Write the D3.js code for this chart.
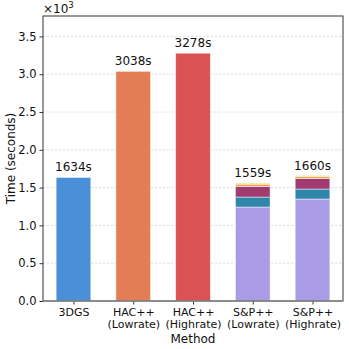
<!DOCTYPE html>
<html>
<head>
<meta charset="utf-8">
<script src="https://cdn.jsdelivr.net/npm/d3@7"></script>
<style>
  body { margin: 0; background: #fff; }
  text { font-family: "DejaVu Sans", sans-serif; fill: #111; }
</style>
</head>
<body>
<div id="chart"></div>
<script>
// Dados
const methods = ["3DGS", "HAC++\n(Lowrate)", "HAC++\n(Highrate)", "S&P++\n(Lowrate)", "S&P++\n(Highrate)"];
const totals = [1634, 3038, 3278, 1559, 1660];
const barColors = ["#4a90d9", "#e27d56", "#db5252", "#a99be6", "#a99be6"];

// S&P++ componentes (empilhados)
const stackColors = ["#a99be6", "#2e86ab", "#a23b72", "#f1a340", "#c9d86a"];
const spLow = [1243, 132, 141, 30, 13];
const spHigh = [1349, 132, 141, 23, 15];

const yTicks = [0, 0.5, 1.0, 1.5, 2.0, 2.5, 3.0, 3.5];

const W = 349, H = 349;
const mLeft = 43, mRight = 343, mTop = 16, mBottom = 301;

const svg = d3.select("#chart").append("svg").attr("width", W).attr("height", H);

const x = d3.scaleLinear().domain([-0.51, 4.51]).range([mLeft, mRight]);
const y = d3.scaleLinear().domain([0, 3770]).range([mBottom, mTop]);
const barW = x(0.58) - x(0);

// grelha
svg.append("g")
  .selectAll("line")
  .data(yTicks.slice(1))
  .join("line")
  .attr("x1", mLeft).attr("x2", mRight)
  .attr("y1", d => y(d * 1000)).attr("y2", d => y(d * 1000))
  .attr("stroke", "#d8d8d8").attr("stroke-width", 0.8)
  .attr("stroke-dasharray", "2.5,1.5");

// barras simples
const simple = totals.map((t, i) => ({ t, i })).filter(d => d.i < 3);
svg.append("g")
  .selectAll("rect")
  .data(simple)
  .join("rect")
  .attr("x", d => x(d.i) - barW / 2)
  .attr("y", d => y(d.t))
  .attr("width", barW)
  .attr("height", d => y(0) - y(d.t))
  .attr("fill", d => barColors[d.i])
  .attr("stroke", "#fff").attr("stroke-opacity", 0.6).attr("stroke-width", 0.8);

// barras empilhadas
[[3, spLow], [4, spHigh]].forEach(([i, parts]) => {
  let acc = 0;
  const segs = parts.map((v, k) => {
    const s = { y0: acc, y1: acc + v, k };
    acc += v;
    return s;
  });
  svg.append("g")
    .selectAll("rect")
    .data(segs)
    .join("rect")
    .attr("x", x(i) - barW / 2)
    .attr("y", d => y(d.y1))
    .attr("width", barW)
    .attr("height", d => y(d.y0) - y(d.y1))
    .attr("fill", d => stackColors[d.k])
    .attr("stroke", "#fff").attr("stroke-opacity", 0.6).attr("stroke-width", 0.8);
});

// rótulos de valores
svg.append("g")
  .selectAll("text")
  .data(totals)
  .join("text")
  .attr("x", (d, i) => x(i))
  .attr("y", d => y(d) - 6)
  .attr("text-anchor", "middle")
  .attr("font-size", 12)
  .text(d => d + "s");

// eixo y
const yAxis = d3.axisLeft(y)
  .tickValues(yTicks.map(d => d * 1000))
  .tickFormat(d => (d / 1000).toFixed(1))
  .tickSize(3.5);
svg.append("g")
  .attr("transform", `translate(${mLeft},0)`)
  .call(yAxis)
  .call(g => g.select(".domain").remove())
  .call(g => g.selectAll("line").attr("stroke", "#333"))
  .call(g => g.selectAll("text").attr("font-size", 11.5).attr("fill", "#111").attr("font-family", "DejaVu Sans"));

// eixo x
const xAxis = d3.axisBottom(x)
  .tickValues(d3.range(methods.length))
  .tickFormat("")
  .tickSize(3.5);
const gx = svg.append("g")
  .attr("transform", `translate(0,${mBottom})`)
  .call(xAxis)
  .call(g => g.select(".domain").remove())
  .call(g => g.selectAll("line").attr("stroke", "#333"));

gx.selectAll(".tick")
  .append("text")
  .attr("text-anchor", "middle")
  .attr("font-size", 11)
  .attr("fill", "#111")
  .each(function (d) {
    const lines = methods[d].split("\n");
    d3.select(this).selectAll("tspan")
      .data(lines)
      .join("tspan")
      .attr("x", 0)
      .attr("y", (l, k) => 15 + k * 12)
      .text(l => l);
  });

// moldura
svg.append("rect")
  .attr("x", mLeft).attr("y", mTop)
  .attr("width", mRight - mLeft).attr("height", mBottom - mTop)
  .attr("fill", "none").attr("stroke", "#333").attr("stroke-width", 1);
svg.append("line")
  .attr("x1", mLeft).attr("x2", mRight)
  .attr("y1", mBottom).attr("y2", mBottom)
  .attr("stroke", "#888").attr("stroke-width", 1.5);

// títulos
svg.append("text")
  .attr("transform", `translate(15,${(mTop + mBottom) / 2}) rotate(-90)`)
  .attr("text-anchor", "middle")
  .attr("font-size", 12)
  .text("Time (seconds)");

svg.append("text")
  .attr("x", (mLeft + mRight) / 2)
  .attr("y", 343)
  .attr("text-anchor", "middle")
  .attr("font-size", 12)
  .text("Method");

const mult = svg.append("text")
  .attr("x", mLeft)
  .attr("y", 13)
  .attr("font-size", 12);
mult.append("tspan").text("×10");
mult.append("tspan").attr("dy", -5).attr("font-size", 8.5).text("3");
</script>
</body>
</html>
